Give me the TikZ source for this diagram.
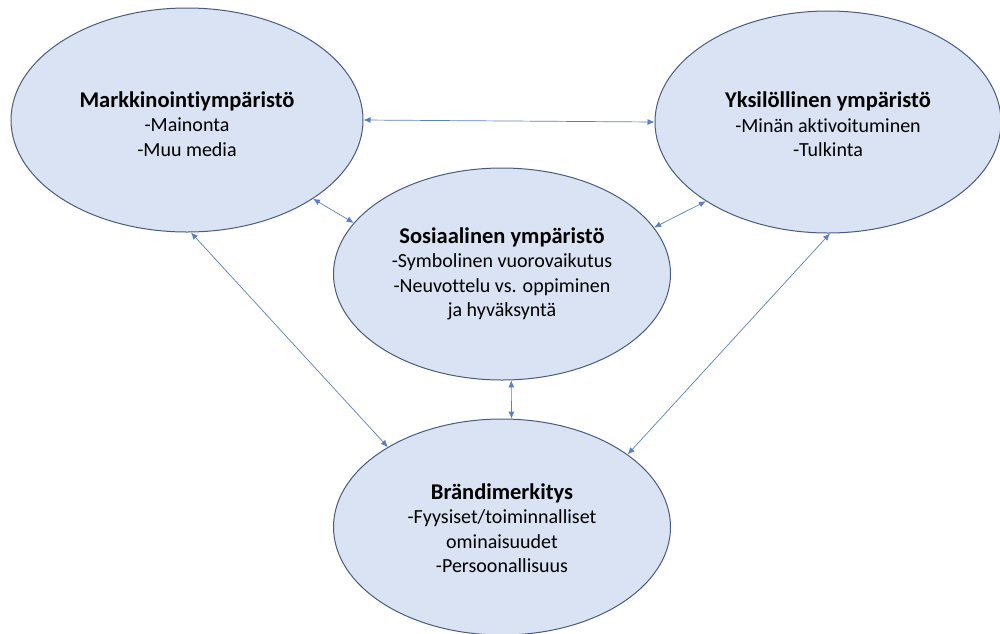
\documentclass[tikz,border=0pt]{standalone}
\usepackage{fontspec}
\setmainfont{Carlito}[Ligatures={NoCommon}]
\usetikzlibrary{shapes.geometric,arrows.meta}
\definecolor{ellfill}{HTML}{DAE3F3}
\definecolor{elldraw}{HTML}{4A5B7C}
\definecolor{arrowcol}{HTML}{5B7FC0}
\tikzset{
  env/.style={ellipse, draw=elldraw, fill=ellfill, line width=1pt, inner sep=0pt},
  envtext/.style={align=center, inner sep=0pt, font=\fontsize{20}{24.5}\selectfont},
  link/.style={draw=arrowcol, line width=0.7pt,
    {Latex[length=7pt,width=6pt]}-{Latex[length=7pt,width=6pt]}}
}
\newcommand{\hdr}[1]{{\fontsize{22.5}{24.5}\selectfont\bfseries #1}}
\begin{document}
\begin{tikzpicture}[x=1pt,y=-1pt]
\useasboundingbox (0,0) rectangle (1000,633);
\node[env, minimum width=352pt, minimum height=224pt,
  label={[envtext, yshift=-4pt]center:{\hdr{Markkinointiympäristö}\\-Mainonta\\-Muu media}}]
  (mark) at (187,120) {};
\node[env, minimum width=346pt, minimum height=222pt,
  label={[envtext, yshift=-2.5pt]center:{\hdr{Yksilöllinen ympäristö}\\-Minän aktivoituminen\\-Tulkinta}}]
  (yks) at (828,122) {};
\node[env, minimum width=337pt, minimum height=212pt,
  label={[envtext]center:{\hdr{Sosiaalinen ympäristö}\\-Symbolinen vuorovaikutus\\-Neuvottelu vs. oppiminen\\ja hyväksyntä}}]
  (sos) at (502,274) {};
\node[env, minimum width=337pt, minimum height=216pt,
  label={[envtext, yshift=-1pt]center:{\hdr{Brändimerkitys}\\-Fyysiset/toiminnalliset\\ominaisuudet\\-Persoonallisuus}}]
  (brand) at (502,527) {};
\draw[link] (mark.east) -- (yks.west);
\draw[link] (mark.-32.4) -- (sos.161.9);
\draw[link] (sos.17) -- (yks.-147.4);
\draw[link] (mark.-88.5) -- (brand.145.4);
\draw[link] (yks.-89) -- (brand.30.6);
\draw[link] (sos.-85.7) -- (brand.85.8);
\end{tikzpicture}
\end{document}
